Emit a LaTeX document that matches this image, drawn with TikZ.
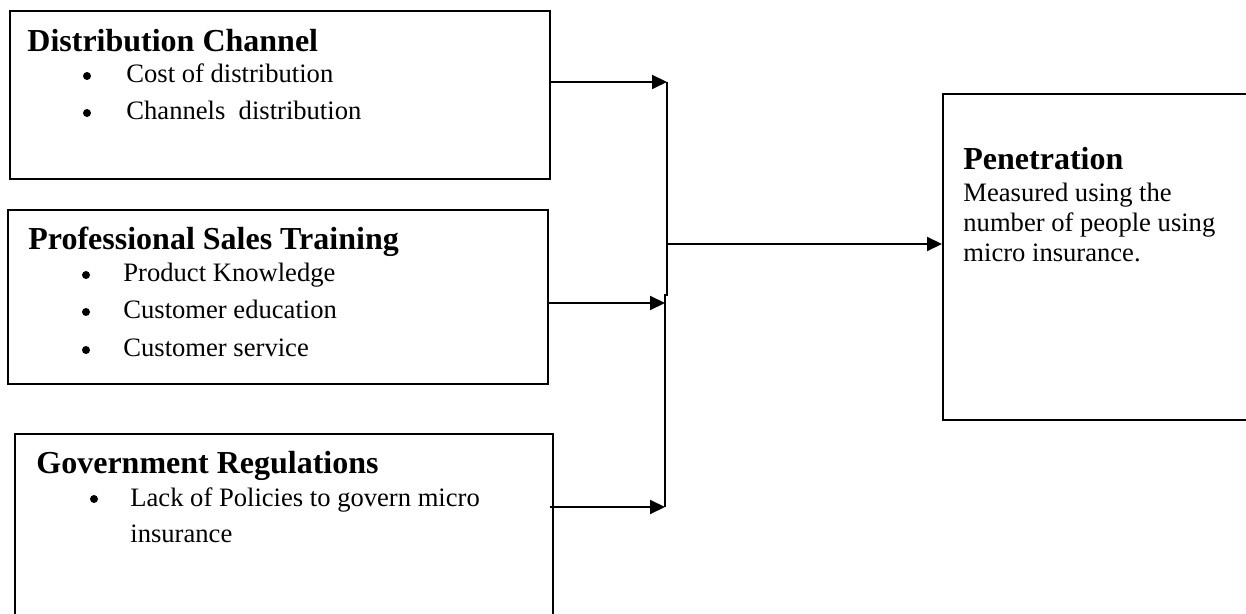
\documentclass[tikz,border=0pt]{standalone}
\usepackage{fontspec}
\setmainfont{Liberation Serif}
\usetikzlibrary{arrows.meta}
\tikzset{
  box/.style={draw, line width=1pt, inner sep=0pt, anchor=north west},
  ttl/.style={font=\fontsize{16}{19}\selectfont\bfseries, anchor=base west, inner sep=0pt},
  txt/.style={font=\fontsize{13.3}{16}\selectfont, anchor=base west, inner sep=0pt},
  dot/.style={circle, fill=black, inner sep=0pt, minimum size=4pt},
  arr/.style={-{Triangle[length=7.5pt,width=7pt]}, line width=1pt},
  vline/.style={line width=0.8pt}
}
\begin{document}
\begin{tikzpicture}[x=0.5pt,y=-0.5pt]
\clip (0,0) rectangle (1246,614);
\fill[white] (0,0) rectangle (1246,614);
% boxes
\node[box, minimum width=270.25pt, minimum height=84pt] (b1) at (8.6,10.5) {};
\node[box, minimum width=270.25pt, minimum height=87pt] (b2) at (6.5,209) {};
\node[box, minimum width=269.2pt, minimum height=110pt] (b3) at (13.6,433) {};
\node[box, minimum width=165pt, minimum height=163pt] (b4) at (942,93) {};
% box 1 text
\node[ttl] (t1) at (27,52) {Distribution Channel};
\node[dot] (d11) at (87,76) {};
\node[txt] (i11) at (126,83) {Cost of distribution};
\node[dot] (d12) at (87,113) {};
\node[txt] (i12) at (126,120) {Channels\ \ distribution};
% box 2 text
\node[ttl] (t2) at (28,250) {Professional Sales Training};
\node[dot] (d21) at (86,275) {};
\node[txt] (i21) at (123,282) {Product Knowledge};
\node[dot] (d22) at (86,312) {};
\node[txt] (i22) at (123,319) {Customer education};
\node[dot] (d23) at (86,350) {};
\node[txt] (i23) at (123,357) {Customer service};
% box 3 text
\node[ttl] (t3) at (36,473) {Government Regulations};
\node[dot] (d31) at (94,499) {};
\node[txt] (i31) at (130,506) {Lack of Policies to govern micro};
\node[txt] (i32) at (130,542) {insurance};
% box 4 text
\node[ttl] (t4) at (963,170) {Penetration};
\node[txt] (p1) at (963,202) {Measured using the};
\node[txt] (p2) at (963,232) {number of people using};
\node[txt] (p3) at (963,262) {micro insurance.};
% connectors
\coordinate (j1) at (667,82);
\coordinate (jk) at (667,295);
\coordinate (jk2) at (665,295);
\coordinate (j2) at (665,303);
\coordinate (j3) at (665,507);
\coordinate (jm) at (667,244);
\draw[vline] (j1) -- (jk) -- (jk2) -- (j3);
\draw[arr] (b1.east |- j1) -- (j1);
\draw[arr] (b2.east |- j2) -- (j2);
\draw[arr] ([xshift=-2pt]b3.east |- j3) -- (j3);
\draw[arr] (jm) -- (jm -| b4.west);
\end{tikzpicture}
\end{document}
